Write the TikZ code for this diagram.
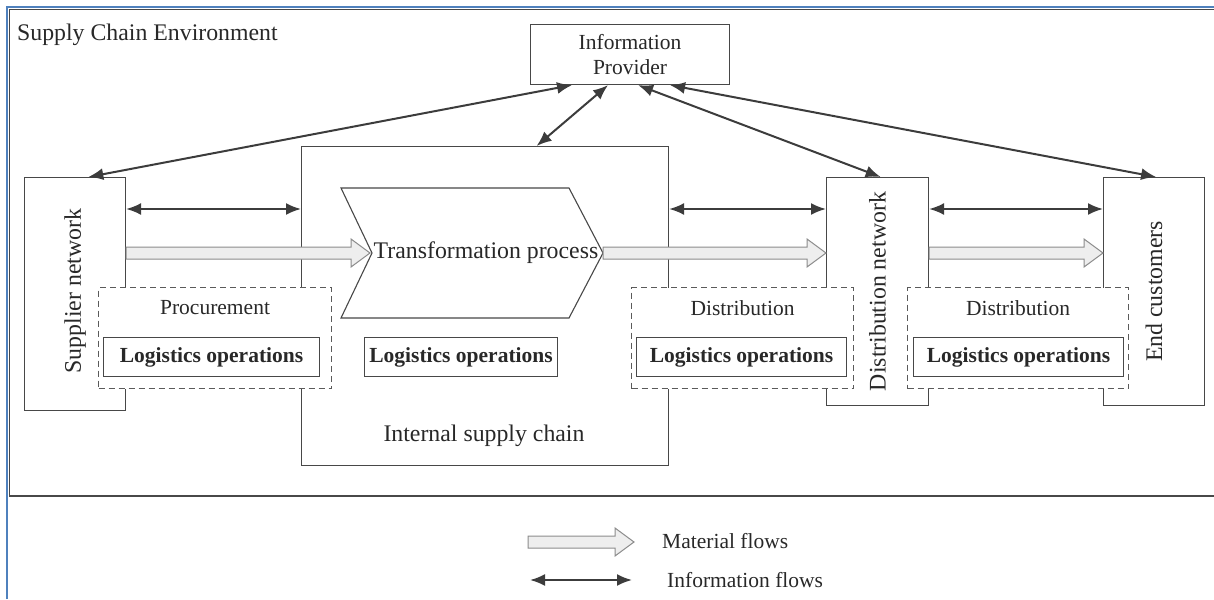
\documentclass[tikz,border=0pt]{standalone}
\usepackage{fontspec}
\setmainfont{Liberation Serif}
\usetikzlibrary{calc,arrows.meta}
\definecolor{framebl}{RGB}{79,129,189}
\definecolor{edgegray}{RGB}{72,72,72}
\definecolor{dashgray}{RGB}{90,90,90}
\definecolor{arrowgray}{RGB}{60,60,60}
\definecolor{matfill}{RGB}{238,238,238}
\definecolor{matdraw}{RGB}{140,140,140}
\definecolor{txt}{RGB}{40,40,40}
\newcommand{\matflow}[2]{\draw[matarrow] let \p1=(#1), \p2=(#2) in
  (\x1,\y1+6pt) -- (\x2-19pt,\y1+6pt) -- (\x2-19pt,\y1+14pt) -- (\x2,\y1)
  -- (\x2-19pt,\y1-14pt) -- (\x2-19pt,\y1-6pt) -- (\x1,\y1-6pt) -- cycle;}
\begin{document}
\begin{tikzpicture}[x=1pt,y=-1pt,
    box/.style={draw=edgegray,line width=1.1pt,fill=white,inner sep=0pt,anchor=north west},
    dbox/.style={box,draw=dashgray,dash pattern=on 6pt off 4pt},
    lbl/.style={font=\fontsize{21.5}{25}\selectfont,text=txt},
    biglbl/.style={font=\fontsize{23.8}{27}\selectfont,text=txt},
    logbox/.style={box,font=\fontsize{21.5}{25}\selectfont\bfseries,text=txt},
    info/.style={{Latex[length=15pt,width=12pt]}-{Latex[length=15pt,width=12pt]},draw=arrowgray,line width=2pt},
    matarrow/.style={fill=matfill,draw=matdraw,line width=1pt}]
  \useasboundingbox (0,0) rectangle (1214,599);
  \draw[framebl,line width=2.5pt] (7,599) -- (7,7) -- (1214,7);
  \draw[edgegray,line width=1.2pt] (1214,9.5) -- (9.5,9.5) -- (9.5,496) -- (1214,496);
  \node[biglbl,anchor=base west,inner sep=0pt] (env) at (17,41) {Supply Chain Environment};

  \node[box,minimum width=199,minimum height=60] (ip) at (530,24) {};
  \node[lbl,align=center] (ip-t) at (ip.center) {Information\\Provider};
  \node[box,minimum width=101,minimum height=233] (sup) at (24,177) {};
  \node[box,minimum width=367,minimum height=319] (isc) at (301,146) {};
  \node[box,minimum width=102,minimum height=228] (dn) at (826,177) {};
  \node[box,minimum width=101,minimum height=228] (ec) at (1103,177) {};
  \node[biglbl] (isc-t) at (484,436) {Internal supply chain};

  \draw[box] (341,188) -- (569,188) -- (603,253) -- (569,318) -- (341,318) -- (372,253) -- cycle;
  \coordinate (tp-in) at (370,253);
  \coordinate (tp-out) at (603,253);
  \node[biglbl,inner sep=0pt] (tp) at (486,253) {Transformation process};

  \coordinate (iy) at (0,209);
  \draw[info] (sup.east |- iy) -- (isc.west |- iy);
  \draw[info] (isc.east |- iy) -- (dn.west |- iy);
  \draw[info] (dn.east |- iy) -- (ec.west |- iy);
  \draw[info] ($(ip.south west)!0.21!(ip.south east)$) -- ($(sup.north west)!0.63!(sup.north east)$);
  \draw[info] ($(ip.south west)!0.39!(ip.south east)$) -- ($(isc.north west)!0.64!(isc.north east)$);
  \draw[info] ($(ip.south west)!0.54!(ip.south east)$) -- ($(dn.north west)!0.53!(dn.north east)$);
  \draw[info] ($(ip.south west)!0.70!(ip.south east)$) -- ($(ec.north west)!0.52!(ec.north east)$);

  \matflow{sup.east |- tp-in}{tp-in}
  \matflow{tp-out}{dn.west |- tp-out}
  \matflow{dn.east |- tp-out}{ec.west |- tp-out}

  \node[dbox,minimum width=233,minimum height=101] (proc) at (98,287) {};
  \node[dbox,minimum width=222,minimum height=101] (dist1) at (631,287) {};
  \node[dbox,minimum width=221,minimum height=101] (dist2) at (907,287) {};
  \node[lbl] (proc-t) at (proc.center |- 0,308) {Procurement};
  \node[lbl] (dist1-t) at (dist1.center |- 0,308) {Distribution};
  \node[lbl] (dist2-t) at (dist2.center |- 0,308) {Distribution};
  \node[logbox,minimum width=216,minimum height=39] (log1) at (103,337) {Logistics operations};
  \node[logbox,minimum width=193,minimum height=39] (log2) at (364,337) {Logistics operations};
  \node[logbox,minimum width=210,minimum height=39] (log3) at (636,337) {Logistics operations};
  \node[logbox,minimum width=210,minimum height=39] (log4) at (913,337) {Logistics operations};

  \node[biglbl,rotate=90] (sup-t) at ([yshift=3]sup.center) {Supplier network};
  \node[biglbl,rotate=90] (dn-t) at (dn.center) {Distribution network};
  \node[biglbl,rotate=90] (ec-t) at (ec.center) {End customers};

  \coordinate (lm-a) at (528,542);
  \coordinate (lm-b) at (634,542);
  \coordinate (li-a) at (530,580);
  \coordinate (li-b) at (632,580);
  \matflow{lm-a}{lm-b}
  \draw[info] (li-a) -- (li-b);
  \node[lbl,anchor=base west,inner sep=0pt] (lm-t) at (662,548) {Material flows};
  \node[lbl,anchor=base west,inner sep=0pt] (li-t) at (667,587) {Information flows};
\end{tikzpicture}
\end{document}
